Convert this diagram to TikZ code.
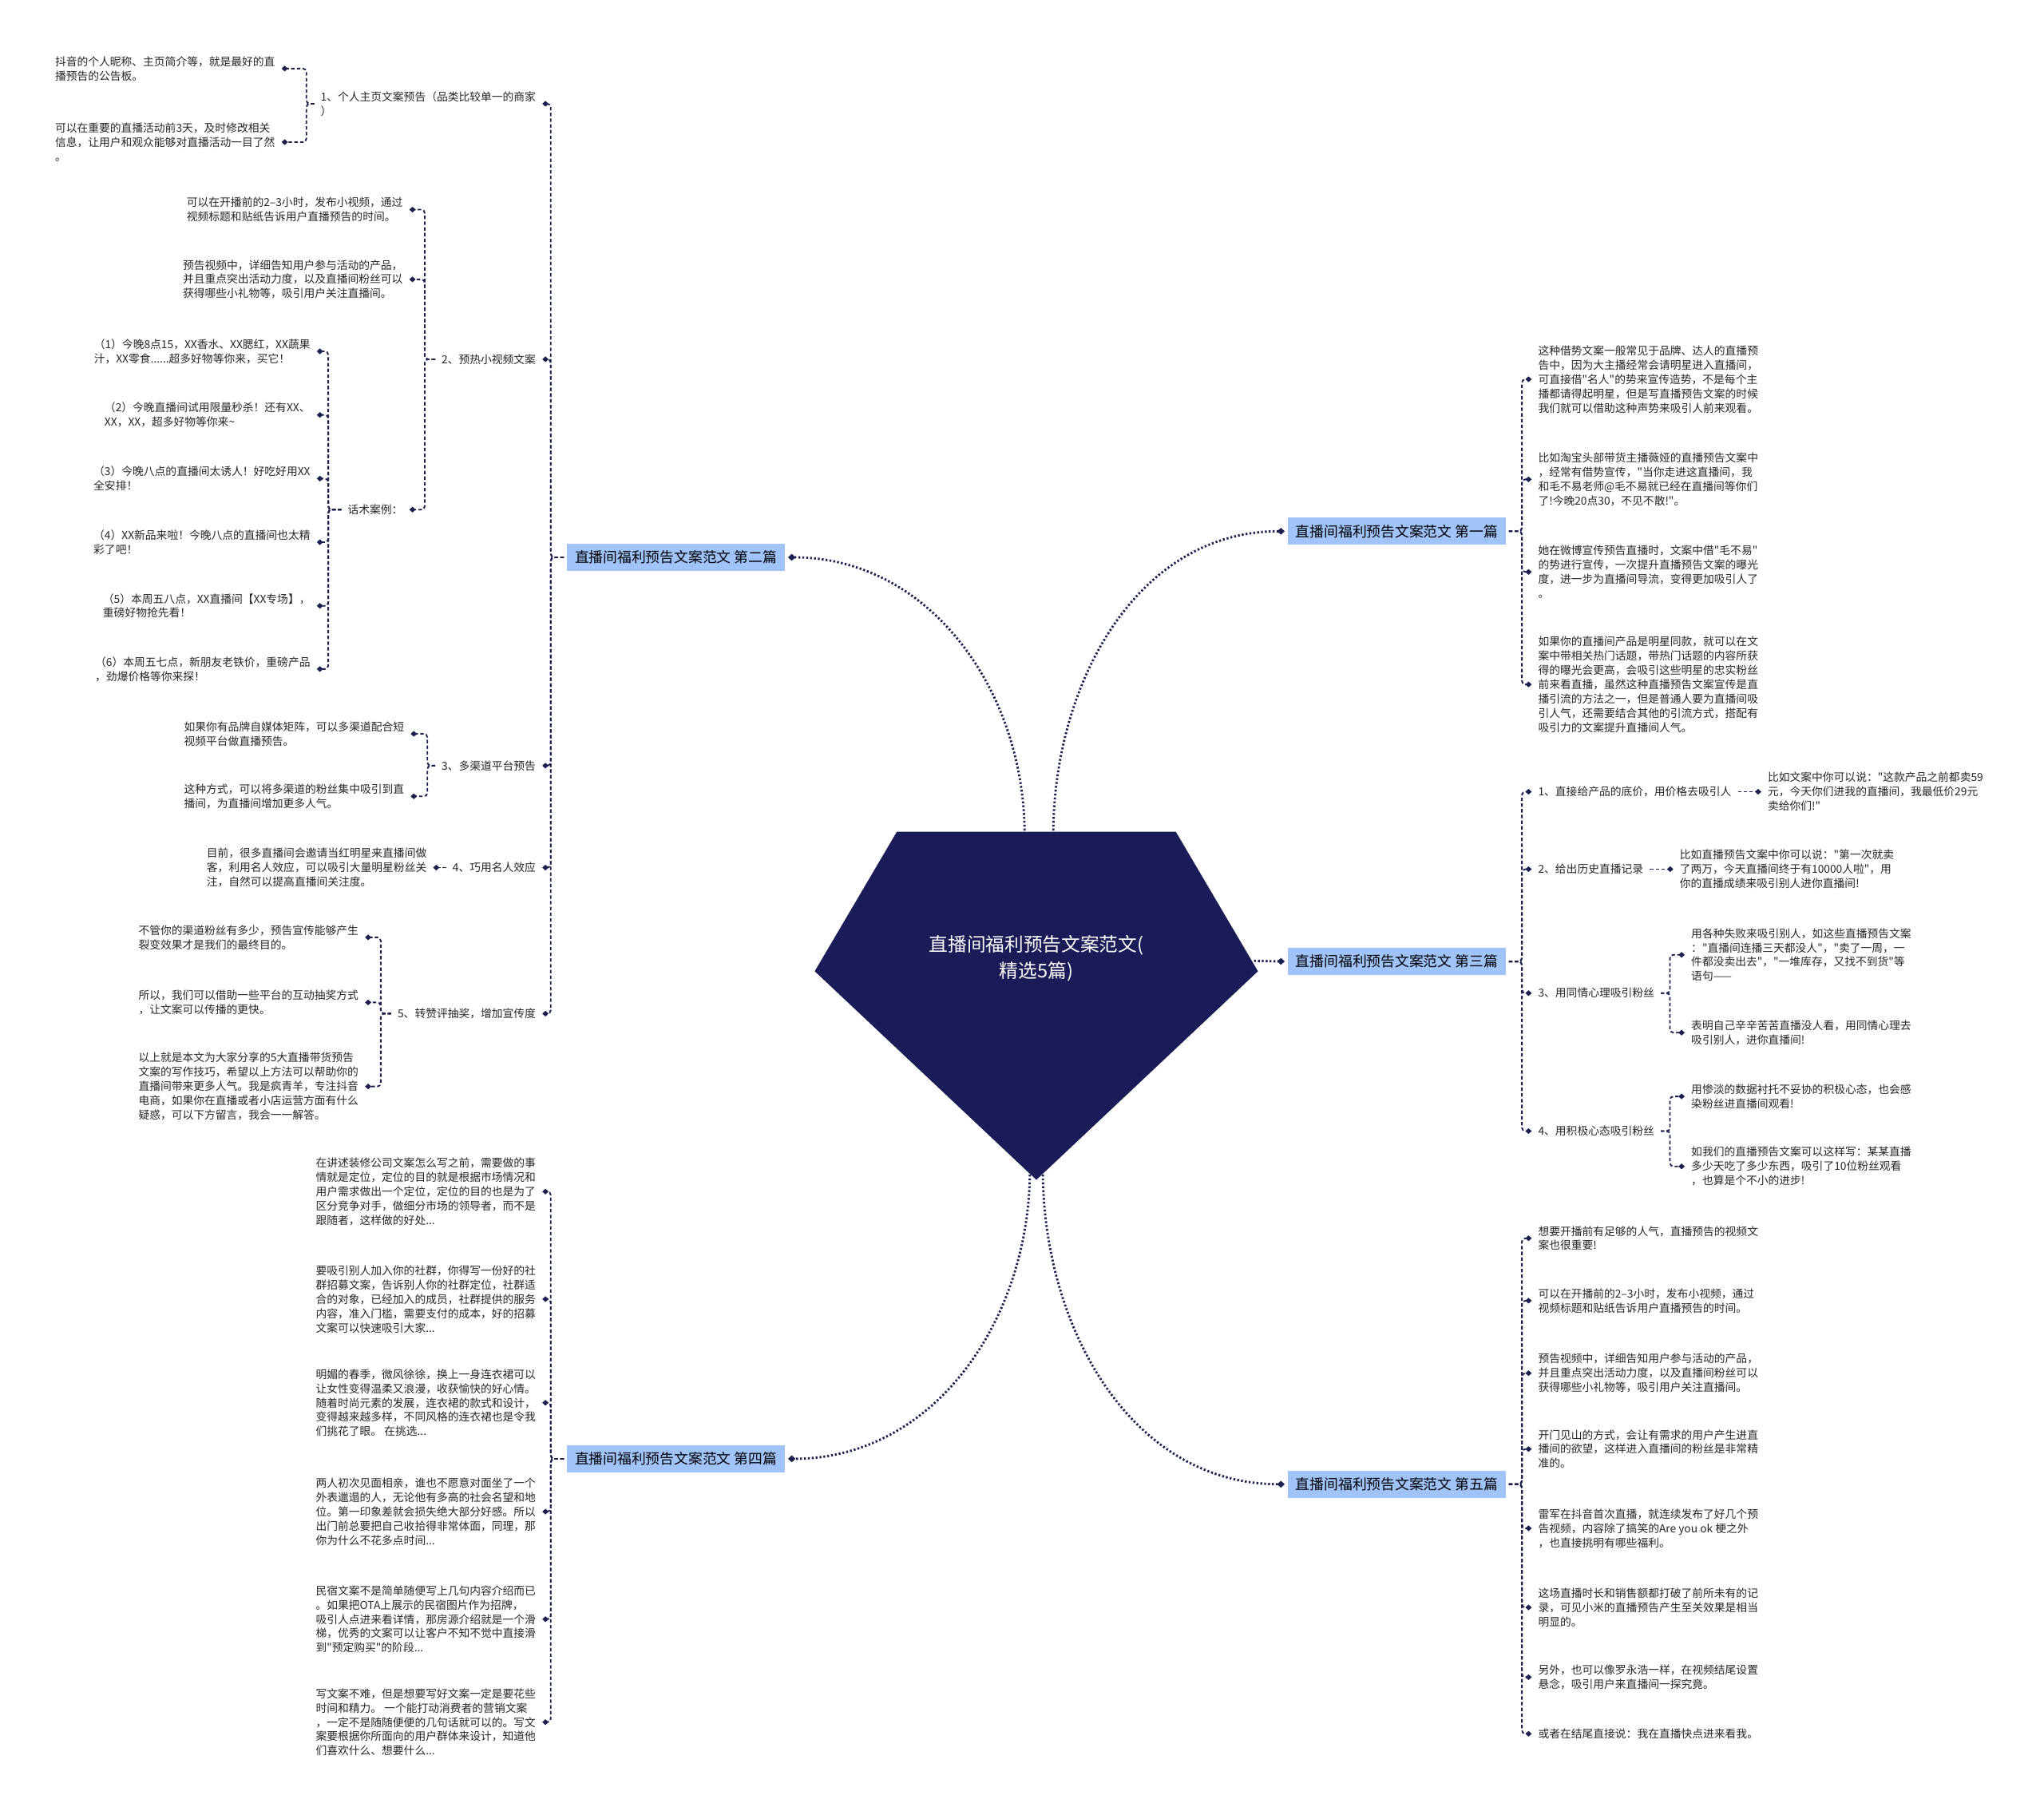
\documentclass[tikz,border=0pt]{standalone}
\usepackage{fontspec}
\setmainfont{Noto Sans CJK SC}[Ligatures=TeXOff]
\usetikzlibrary{arrows.meta, positioning}

\definecolor{rootnavy}{RGB}{27,27,87}
\definecolor{linknavy}{RGB}{28,32,78}
\definecolor{topicblue}{RGB}{160,195,250}
\definecolor{leaftext}{RGB}{38,38,38}

\begin{document}
\begin{tikzpicture}[
    x=0.04cm, y=-0.04cm,
    leafl/.style={anchor=east, align=left, inner sep=0pt, outer xsep=0.2cm, outer ysep=0pt, text=leaftext, font=\fontsize{9.6}{12.5}\selectfont},
    leafr/.style={leafl, anchor=west},
    topic/.style={rectangle, fill=topicblue, minimum width=6.68cm, minimum height=0.84cm, inner sep=0pt, outer xsep=0.1cm, text=black, font=\fontsize{12.4}{14}\selectfont},
    link/.style={draw=linknavy, line width=1.3pt, dash pattern=on 3pt off 2pt, rounded corners=3pt, -{Diamond[length=5.5pt,width=5pt]}},
    mainlink/.style={draw=linknavy, line width=2pt, dash pattern=on 1.6pt off 1.8pt, -{Diamond[length=6.5pt,width=6pt]}}
]
    \fill[white] (0,0) rectangle (1568,1392);
    \useasboundingbox (0,0) rectangle (1568,1392);

    % centre shape
    \coordinate (rootNW) at (786,640);
    \coordinate (rootNE) at (808,640);
    \coordinate (rootE) at (962,737);
    \coordinate (rootSW) at (790,898);
    \coordinate (rootSE) at (800,898);

    \node[topic] (b1) at (1071.5,407.5) {直播间福利预告文案范文 第一篇};
    \node[topic] (b2) at (518.5,427.5) {直播间福利预告文案范文 第二篇};
    \node[topic] (b3) at (1071.5,737.5) {直播间福利预告文案范文 第三篇};
    \node[topic] (b4) at (518.5,1119) {直播间福利预告文案范文 第四篇};
    \node[topic] (b5) at (1071.5,1138.5) {直播间福利预告文案范文 第五篇};

    % second part (left, top)
    \node[leafl] (s21) at (416,79.6) {1、个人主页文案预告（品类比较单一的商家\\）};
    \node[leafl] (l211) at (216,52.6) {抖音的个人昵称、主页简介等，就是最好的直\\播预告的公告板。};
    \node[leafl] (l212) at (216,109) {可以在重要的直播活动前3天，及时修改相关\\信息，让用户和观众能够对直播活动一目了然\\。};
    \node[leafl] (s22) at (416,275.6) {2、预热小视频文案};
    \node[leafl] (l221) at (314,160.8) {可以在开播前的2–3小时，发布小视频，通过\\视频标题和贴纸告诉用户直播预告的时间。};
    \node[leafl] (l222) at (314,214.3) {预告视频中，详细告知用户参与活动的产品，\\并且重点突出活动力度，以及直播间粉丝可以\\获得哪些小礼物等，吸引用户关注直播间。};
    \node[leafl] (l223) at (314,390.9) {话术案例：};
    \node[leafl] (h1) at (243,269.5) {（1）今晚8点15，XX香水、XX腮红，XX蔬果\\汁，XX零食......超多好物等你来，买它！};
    \node[leafl] (h2) at (243,318.3) {（2）今晚直播间试用限量秒杀！还有XX、\\XX，XX，超多好物等你来\textasciitilde};
    \node[leafl] (h3) at (243,367.1) {（3）今晚八点的直播间太诱人！好吃好用XX\\全安排！};
    \node[leafl] (h4) at (243,415.9) {（4）XX新品来啦！今晚八点的直播间也太精\\彩了吧！};
    \node[leafl] (h5) at (243,464.7) {（5）本周五八点，XX直播间【XX专场】，\\重磅好物抢先看！};
    \node[leafl] (h6) at (243,513.2) {（6）本周五七点，新朋友老铁价，重磅产品\\，劲爆价格等你来探！};
    \node[leafl] (s23) at (416,587.3) {3、多渠道平台预告};
    \node[leafl] (l231) at (315,562.9) {如果你有品牌自媒体矩阵，可以多渠道配合短\\视频平台做直播预告。};
    \node[leafl] (l232) at (315,610.8) {这种方式，可以将多渠道的粉丝集中吸引到直\\播间，为直播间增加更多人气。};
    \node[leafl] (s24) at (416,665.5) {4、巧用名人效应};
    \node[leafl, left=0.4cm of s24] (l241) {目前，很多直播间会邀请当红明星来直播间做\\客，利用名人效应，可以吸引大量明星粉丝关\\注，自然可以提高直播间关注度。};
    \node[leafl] (s25) at (416,777.5) {5、转赞评抽奖，增加宣传度};
    \node[leafl] (l251) at (280,719) {不管你的渠道粉丝有多少，预告宣传能够产生\\裂变效果才是我们的最终目的。};
    \node[leafl] (l252) at (280,768.9) {所以，我们可以借助一些平台的互动抽奖方式\\，让文案可以传播的更快。};
    \node[leafl] (l253) at (280,833.4) {以上就是本文为大家分享的5大直播带货预告\\文案的写作技巧，希望以上方法可以帮助你的\\直播间带来更多人气。我是疯青羊，专注抖音\\电商，如果你在直播或者小店运营方面有什么\\疑惑，可以下方留言，我会一一解答。};

    % fourth part (left, bottom)
    \node[leafl] (l41) at (416,914) {在讲述装修公司文案怎么写之前，需要做的事\\情就是定位，定位的目的就是根据市场情况和\\用户需求做出一个定位，定位的目的也是为了\\区分竞争对手，做细分市场的领导者，而不是\\跟随者，这样做的好处...};
    \node[leafl] (l42) at (416,996.5) {要吸引别人加入你的社群，你得写一份好的社\\群招募文案，告诉别人你的社群定位，社群适\\合的对象，已经加入的成员，社群提供的服务\\内容，准入门槛，需要支付的成本，好的招募\\文案可以快速吸引大家...};
    \node[leafl] (l43) at (416,1076) {明媚的春季，微风徐徐，换上一身连衣裙可以\\让女性变得温柔又浪漫，收获愉快的好心情。\\随着时尚元素的发展，连衣裙的款式和设计，\\变得越来越多样，不同风格的连衣裙也是令我\\们挑花了眼。 在挑选...};
    \node[leafl] (l44) at (416,1159.5) {两人初次见面相亲，谁也不愿意对面坐了一个\\外表邋遢的人，无论他有多高的社会名望和地\\位。第一印象差就会损失绝大部分好感。所以\\出门前总要把自己收拾得非常体面，同理，那\\你为什么不花多点时间...};
    \node[leafl] (l45) at (416,1242) {民宿文案不是简单随便写上几句内容介绍而已\\。如果把OTA上展示的民宿图片作为招牌，\\吸引人点进来看详情，那房源介绍就是一个滑\\梯，优秀的文案可以让客户不知不觉中直接滑\\到"预定购买"的阶段...};
    \node[leafl] (l46) at (416,1321) {写文案不难，但是想要写好文案一定是要花些\\时间和精力。 一个能打动消费者的营销文案\\，一定不是随随便便的几句话就可以的。写文\\案要根据你所面向的用户群体来设计，知道他\\们喜欢什么、想要什么...};

    % first part (right, top)
    \node[leafr] (l11) at (1175,290.9) {这种借势文案一般常见于品牌、达人的直播预\\告中，因为大主播经常会请明星进入直播间，\\可直接借"名人"的势来宣传造势，不是每个主\\播都请得起明星，但是写直播预告文案的时候\\我们就可以借助这种声势来吸引人前来观看。};
    \node[leafr] (l12) at (1175,367.7) {比如淘宝头部带货主播薇娅的直播预告文案中\\，经常有借势宣传，"当你走进这直播间，我\\和毛不易老师@毛不易就已经在直播间等你们\\了!今晚20点30，不见不散!"。};
    \node[leafr] (l13) at (1175,438.7) {她在微博宣传预告直播时，文案中借"毛不易"\\的势进行宣传，一次提升直播预告文案的曝光\\度，进一步为直播间导流，变得更加吸引人了\\。};
    \node[leafr] (l14) at (1175,525) {如果你的直播间产品是明星同款，就可以在文\\案中带相关热门话题，带热门话题的内容所获\\得的曝光会更高，会吸引这些明星的忠实粉丝\\前来看直播，虽然这种直播预告文案宣传是直\\播引流的方法之一，但是普通人要为直播间吸\\引人气，还需要结合其他的引流方式，搭配有\\吸引力的文案提升直播间人气。};

    % third part (right, middle)
    \node[leafr] (s31) at (1175,607.3) {1、直接给产品的底价，用价格去吸引人};
    \node[leafr, right=0.72cm of s31] (l311) {比如文案中你可以说："这款产品之前都卖59\\元，今天你们进我的直播间，我最低价29元\\卖给你们!"};
    \node[leafr] (s32) at (1175,666.7) {2、给出历史直播记录};
    \node[leafr, right=0.72cm of s32] (l321) {比如直播预告文案中你可以说："第一次就卖\\了两万，今天直播间终于有10000人啦"，用\\你的直播成绩来吸引别人进你直播间!};
    \node[leafr] (s33) at (1175,761.8) {3、用同情心理吸引粉丝};
    \node[leafr] (l331) at (1292.4,732.4) {用各种失败来吸引别人，如这些直播预告文案\\："直播间连播三天都没人"，"卖了一周，一\\件都没卖出去"，"一堆库存，又找不到货"等\\语句——};
    \node[leafr] (l332) at (1292.4,792.1) {表明自己辛辛苦苦直播没人看，用同情心理去\\吸引别人，进你直播间!};
    \node[leafr] (s34) at (1175,867.6) {4、用积极心态吸引粉丝};
    \node[leafr] (l341) at (1292.4,841) {用惨淡的数据衬托不妥协的积极心态，也会感\\染粉丝进直播间观看!};
    \node[leafr] (l342) at (1292.4,894.7) {如我们的直播预告文案可以这样写：某某直播\\多少天吃了多少东西，吸引了10位粉丝观看\\，也算是个不小的进步!};

    % fifth part (right, bottom)
    \node[leafr] (l51) at (1175,949.8) {想要开播前有足够的人气，直播预告的视频文\\案也很重要!};
    \node[leafr] (l52) at (1175,997.7) {可以在开播前的2–3小时，发布小视频，通过\\视频标题和贴纸告诉用户直播预告的时间。};
    \node[leafr] (l53) at (1175,1053.3) {预告视频中，详细告知用户参与活动的产品，\\并且重点突出活动力度，以及直播间粉丝可以\\获得哪些小礼物等，吸引用户关注直播间。};
    \node[leafr] (l54) at (1175,1111.5) {开门见山的方式，会让有需求的用户产生进直\\播间的欲望，这样进入直播间的粉丝是非常精\\准的。};
    \node[leafr] (l55) at (1175,1172.3) {雷军在抖音首次直播，就连续发布了好几个预\\告视频，内容除了搞笑的Are you ok 梗之外\\，也直接挑明有哪些福利。};
    \node[leafr] (l56) at (1175,1233) {这场直播时长和销售额都打破了前所未有的记\\录，可见小米的直播预告产生至关效果是相当\\明显的。};
    \node[leafr] (l57) at (1175,1286.5) {另外，也可以像罗永浩一样，在视频结尾设置\\悬念，吸引用户来直播间一探究竟。};
    \node[leafr] (l58) at (1175,1329.9) {或者在结尾直接说：我在直播快点进来看我。};

    % links
    \draw[mainlink] (rootNW) to[out=90,in=0] (b2.east);
    \draw[mainlink] (rootNE) to[out=90,in=180] (b1.west);
    \draw[mainlink] (rootE) -- (b3.west);
    \draw[mainlink] (rootSW) to[out=-90,in=0] (b4.east);
    \draw[mainlink] (rootSE) to[out=-90,in=180] (b5.west);

    \foreach \n in {s21,s22,s23,s24,s25}
        \draw[link] (b2.west) -- ++(-10,0) |- (\n.east);
    \foreach \n in {l211,l212}
        \draw[link] (s21.west) -- ++(-6,0) |- (\n.east);
    \foreach \n in {l221,l222,l223}
        \draw[link] (s22.west) -- ++(-8,0) |- (\n.east);
    \foreach \n in {h1,h2,h3,h4,h5,h6}
        \draw[link] (l223.west) -- ++(-10,0) |- (\n.east);
    \foreach \n in {l231,l232}
        \draw[link] (s23.west) -- ++(-6,0) |- (\n.east);
    \draw[link] (s24.west) -- (l241.east);
    \foreach \n in {l251,l252,l253}
        \draw[link] (s25.west) -- ++(-8,0) |- (\n.east);
    \foreach \n in {l41,l42,l43,l44,l45,l46}
        \draw[link] (b4.west) -- ++(-10,0) |- (\n.east);

    \foreach \n in {l11,l12,l13,l14}
        \draw[link] (b1.east) -- ++(10,0) |- (\n.west);
    \foreach \n in {s31,s32,s33,s34}
        \draw[link] (b3.east) -- ++(10,0) |- (\n.west);
    \draw[link] (s31.east) -- (l311.west);
    \draw[link] (s32.east) -- (l321.west);
    \foreach \n in {l331,l332}
        \draw[link] (s33.east) -- ++(7,0) |- (\n.west);
    \foreach \n in {l341,l342}
        \draw[link] (s34.east) -- ++(7,0) |- (\n.west);
    \foreach \n in {l51,l52,l53,l54,l55,l56,l57,l58}
        \draw[link] (b5.east) -- ++(10,0) |- (\n.west);

    % root
    \fill[rootnavy] (688,638) -- (902,638) -- (965,745) -- (795,905) -- (625,745) -- cycle;
    \node[align=center, text=white, font=\fontsize{16.5}{22.7}\selectfont] (root) at (795,735) {直播间福利预告文案范文(\\精选5篇)};
\end{tikzpicture}
\end{document}
